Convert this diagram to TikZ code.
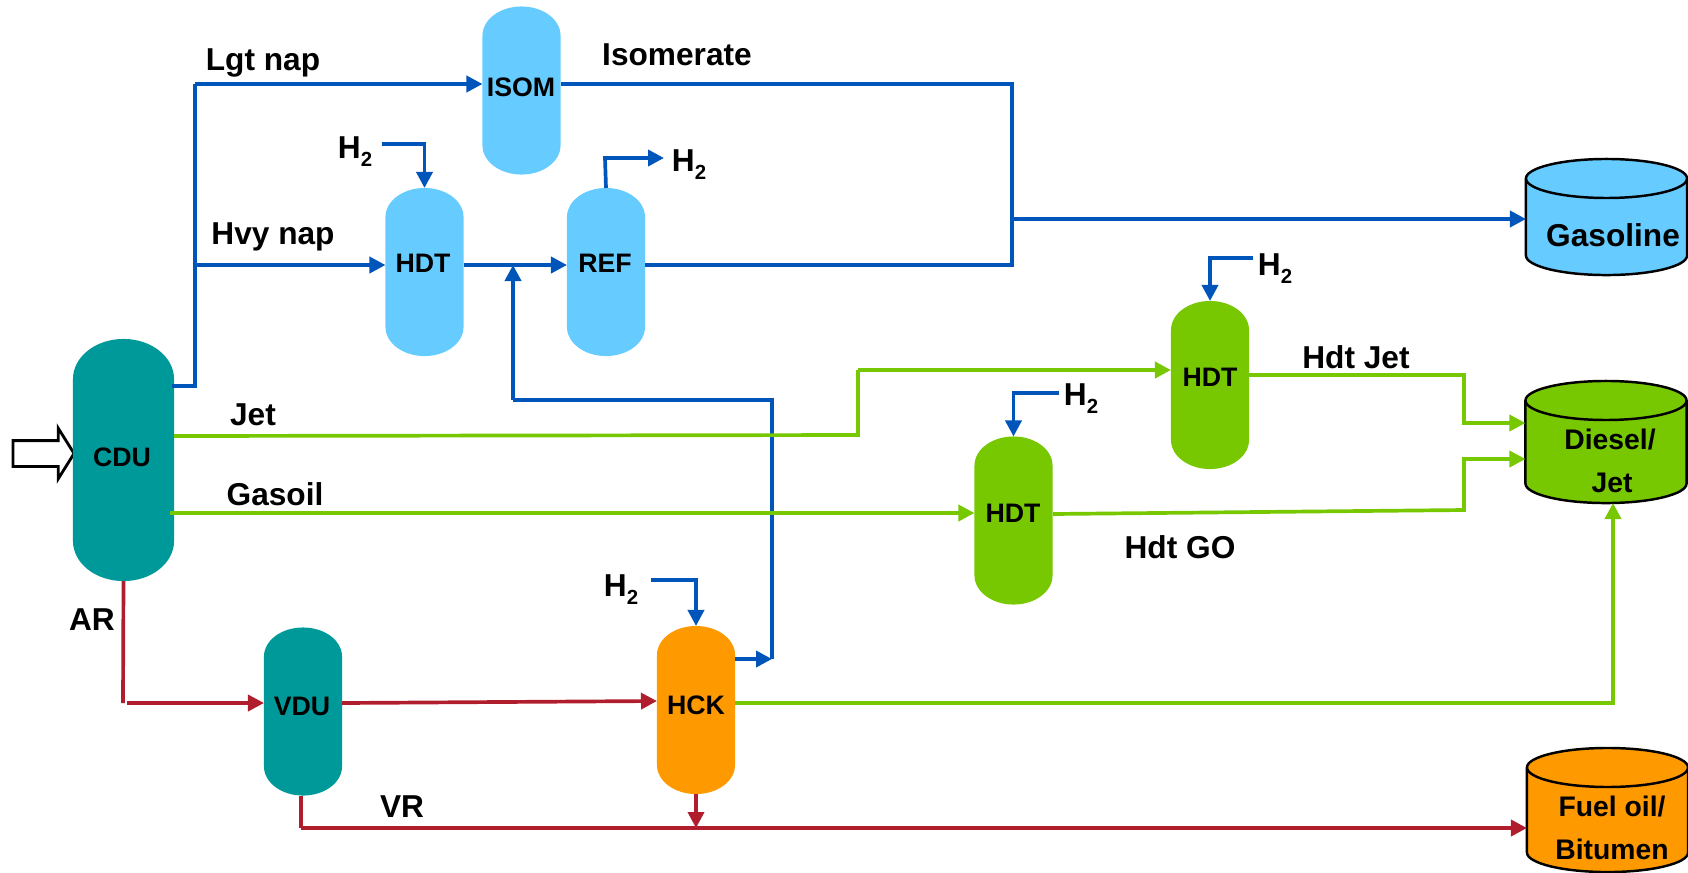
\documentclass[tikz,border=0pt]{standalone}
\usepackage{fontspec}
\setmainfont{Liberation Sans}
\usepackage{tikz}
\usetikzlibrary{positioning}
\usetikzlibrary{arrows.meta}
\usetikzlibrary{shapes.arrows}
\definecolor{lightblue}{HTML}{66CCFF}
\definecolor{tealcol}{HTML}{009999}
\definecolor{limecol}{HTML}{77C800}
\definecolor{orangecol}{HTML}{FF9900}
\definecolor{bluepipe}{HTML}{0055BB}
\definecolor{redpipe}{HTML}{B01E2E}
\newcommand{\hyd}{H\raisebox{-2.3pt}{\fontsize{5.8}{7}\selectfont 2}}
\newcommand{\vesselbody}[4]{\path[#2] ([yshift=-#4]#1.north west) arc[start angle=180,end angle=0,x radius=#3,y radius=#4] -- ([yshift=#4]#1.south east) arc[start angle=0,end angle=-180,x radius=#3,y radius=#4] -- cycle;}
\newcommand{\tankbody}[2]{\vesselbody{#1}{fill=#2,draw=black,line width=0.7pt}{0.805cm}{0.195cm}
	\draw[line width=0.7pt] ([yshift=-0.195cm]#1.north west) arc[start angle=180,end angle=360,x radius=0.805cm,y radius=0.195cm];}
\tikzset{
	vessel/.style={rectangle,inner sep=0pt,outer sep=0pt,minimum width=0.78cm,minimum height=1.68cm},
	tank/.style={rectangle,inner sep=0pt,outer sep=0pt,minimum width=1.61cm,minimum height=1.22cm},
	unitname/.style={font=\bfseries\fontsize{7.6}{9}\selectfont,inner sep=0pt},
	stream/.style={font=\bfseries\fontsize{9}{11}\selectfont,inner sep=0pt},
	product/.style={font=\bfseries\fontsize{8.05}{10}\selectfont,inner sep=0pt},
	pipeblue/.style={draw=bluepipe,line width=1.05pt},
	pipegreen/.style={draw=limecol,line width=1.05pt},
	pipered/.style={draw=redpipe,line width=1.05pt},
	tip/.style={-{Triangle[length=1.6mm,width=1.6mm]}}
}
\begin{document}
\begin{tikzpicture}[x=0.01cm,y=-0.01cm]
\useasboundingbox (0,0) rectangle (1688,872);
\node[vessel,minimum width=1.01cm,minimum height=2.42cm] (cdu) at (123.5,460) {};
\node[vessel] (vdu) at (303,711.5) {};
\node[vessel] (isom) at (521.5,90.5) {};
\node[vessel] (hdtA) at (424.5,272) {};
\node[vessel] (ref) at (606,272) {};
\node[vessel] (hdtB) at (1210,385) {};
\node[vessel] (hdtC) at (1013.5,520.5) {};
\node[vessel] (hck) at (696,710) {};
\node[tank,minimum height=1.16cm] (gasoline) at (1606.5,217) {};
\node[tank] (diesel) at (1606,442) {};
\node[tank,minimum height=1.24cm] (fuel) at (1607.5,810) {};
\node[shape=single arrow,draw=black,line width=0.8pt,inner sep=0pt,inner ysep=1.15mm,minimum width=0.48cm,minimum height=0.61cm,single arrow head extend=1.25mm,single arrow tip angle=116,single arrow head indent=0pt] (feed) at (39.5,453.5) {};

\vesselbody{cdu}{fill=tealcol}{0.505cm}{0.4cm}
\vesselbody{vdu}{fill=tealcol}{0.39cm}{0.29cm}
\vesselbody{isom}{fill=lightblue}{0.39cm}{0.29cm}
\vesselbody{hdtA}{fill=lightblue}{0.39cm}{0.29cm}
\vesselbody{ref}{fill=lightblue}{0.39cm}{0.29cm}
\vesselbody{hdtB}{fill=limecol}{0.39cm}{0.29cm}
\vesselbody{hdtC}{fill=limecol}{0.39cm}{0.29cm}
\vesselbody{hck}{fill=orangecol}{0.39cm}{0.29cm}
\tankbody{gasoline}{lightblue}
\tankbody{diesel}{limecol}
\tankbody{fuel}{orangecol}

\node[unitname] (cdutext) at (122,457) {CDU};
\node[unitname] (vdutext) at (302,706) {VDU};
\node[unitname] (isomtext) at (521,87) {ISOM};
\node[unitname] (hdtAtext) at (423,263) {HDT};
\node[unitname] (reftext) at (605,263) {REF};
\node[unitname] (hdtBtext) at (1210,377) {HDT};
\node[unitname] (hdtCtext) at (1013,513) {HDT};
\node[unitname] (hcktext) at (696,705) {HCK};

\node[stream] (lgt) at (263,63) {Lgt nap};
\node[stream] (isomerate) at (677,55) {Isomerate};
\node[stream] (hvy) at (273,237) {Hvy nap};
\node[stream] (jet) at (253,415) {Jet};
\node[stream] (gasoil) at (275,494) {Gasoil};
\node[stream] (ar) at (92,620) {AR};
\node[stream] (vr) at (402,807) {VR};
\node[stream] (hdtjet) at (1356,357) {Hdt Jet};
\node[stream] (hdtgo) at (1180,547) {Hdt GO};
\node[stream] (hA) at (355,152) {\hyd};
\node[stream] (hB) at (689,165) {\hyd};
\node[stream] (hC) at (1275,269) {\hyd};
\node[stream] (hD) at (1081,399) {\hyd};
\node[stream] (hE) at (621,590) {\hyd};
\node[stream] (gasolinetext) at (1613,235) {Gasoline};
\node[product] (dieseltext) at (1610,440) {Diesel/};
\node[product] (jettext) at (1612,483) {Jet};
\node[product] (fueltext) at (1612,807) {Fuel oil/};
\node[product] (bitumentext) at (1612,849) {Bitumen};

\coordinate (naphout) at (172,386);
\coordinate (naphbend) at (195,386);
\coordinate (lgtbend) at (195,84);
\coordinate (hvyjoin) at (195,265);
\coordinate (isombend) at (1012,84);
\coordinate (refbend) at (1012,265);
\coordinate (gasjoin) at (1012,219);
\coordinate (recyclestart) at (772,659);
\coordinate (recycletop) at (772,400);
\coordinate (recycleleft) at (513,400);
\coordinate (feedhdt) at (513,265);
\coordinate (hAstart) at (382,144);
\coordinate (hBbend) at (605,158);
\coordinate (hBend) at (664,158);
\coordinate (hCstart) at (1253,258);
\coordinate (hDstart) at (1059,393);
\coordinate (hEstart) at (651,580);

\coordinate (jetout) at (174,436);
\coordinate (jetbendA) at (858,435);
\coordinate (jetbendB) at (858,370);
\coordinate (hdtjetout) at (1249,375);
\coordinate (hdtjetbend) at (1464,375);
\coordinate (hdtjetin) at (1464,423);
\coordinate (gasoilout) at (170,513);
\coordinate (hdtgoout) at (1053,514);
\coordinate (hdtgobend) at (1464,510);
\coordinate (hdtgoin) at (1464,459);
\coordinate (hckout) at (735,703);
\coordinate (hckbend) at (1613,703);

\coordinate (arbend) at (123,703);
\coordinate (arstart) at (127,703);
\coordinate (hckin) at (656,701);
\coordinate (vrbend) at (301,828);

\draw[pipeblue] (naphout) -- (naphbend) -- (lgtbend);
\draw[pipeblue,tip] (lgtbend) -- (lgtbend -| isom.west);
\draw[pipeblue,tip] (hvyjoin) -- (hvyjoin -| hdtA.west);
\draw[pipeblue,tip] (feedhdt -| hdtA.east) -- (feedhdt -| ref.west);
\draw[pipeblue,tip] (hAstart) -| (hdtA.north);
\draw[pipeblue,tip] (ref.north) -- (hBbend) -- (hBend);
\draw[pipeblue] (isombend -| isom.east) -- (isombend) -- (refbend) -- (refbend -| ref.east);
\draw[pipeblue,tip] (gasjoin) -- (gasjoin -| gasoline.west);
\draw[pipeblue,tip] (recyclestart -| hck.east) -- (recyclestart);
\draw[pipeblue] (recyclestart) -- (recycletop) -- (recycleleft);
\draw[pipeblue,tip] (recycleleft) -- (feedhdt);
\draw[pipeblue,tip] (hEstart) -| (hck.north);

\draw[pipegreen] (jetout) -- (jetbendA) -- (jetbendB);
\draw[pipegreen,tip] (jetbendB) -- (jetbendB -| hdtB.west);
\draw[pipegreen,tip] (hdtjetout) -- (hdtjetbend) -- (hdtjetin) -- (hdtjetin -| diesel.west);
\draw[pipegreen,tip] (gasoilout) -- (gasoilout -| hdtC.west);
\draw[pipegreen,tip] (hdtgoout) -- (hdtgobend) -- (hdtgoin) -- (hdtgoin -| diesel.west);
\draw[pipegreen,tip] (hckout) -- (hckbend) -- (hckbend |- diesel.south);

\draw[pipeblue,tip] (hCstart) -| (hdtB.north);
\draw[pipeblue,tip] (hDstart) -| (hdtC.north);

\draw[pipered] (cdu.south) -- (arbend);
\draw[pipered,tip] (arstart) -- (arstart -| vdu.west);
\draw[pipered,tip] (arbend -| vdu.east) -- (hckin -| hck.west);
\draw[pipered] (vdu.south -| vrbend) -- (vrbend);
\draw[pipered,tip] (vrbend) -- (vrbend -| fuel.west);
\draw[pipered,tip] (hck.south) -- (hck.south |- vrbend);
\end{tikzpicture}
\end{document}
